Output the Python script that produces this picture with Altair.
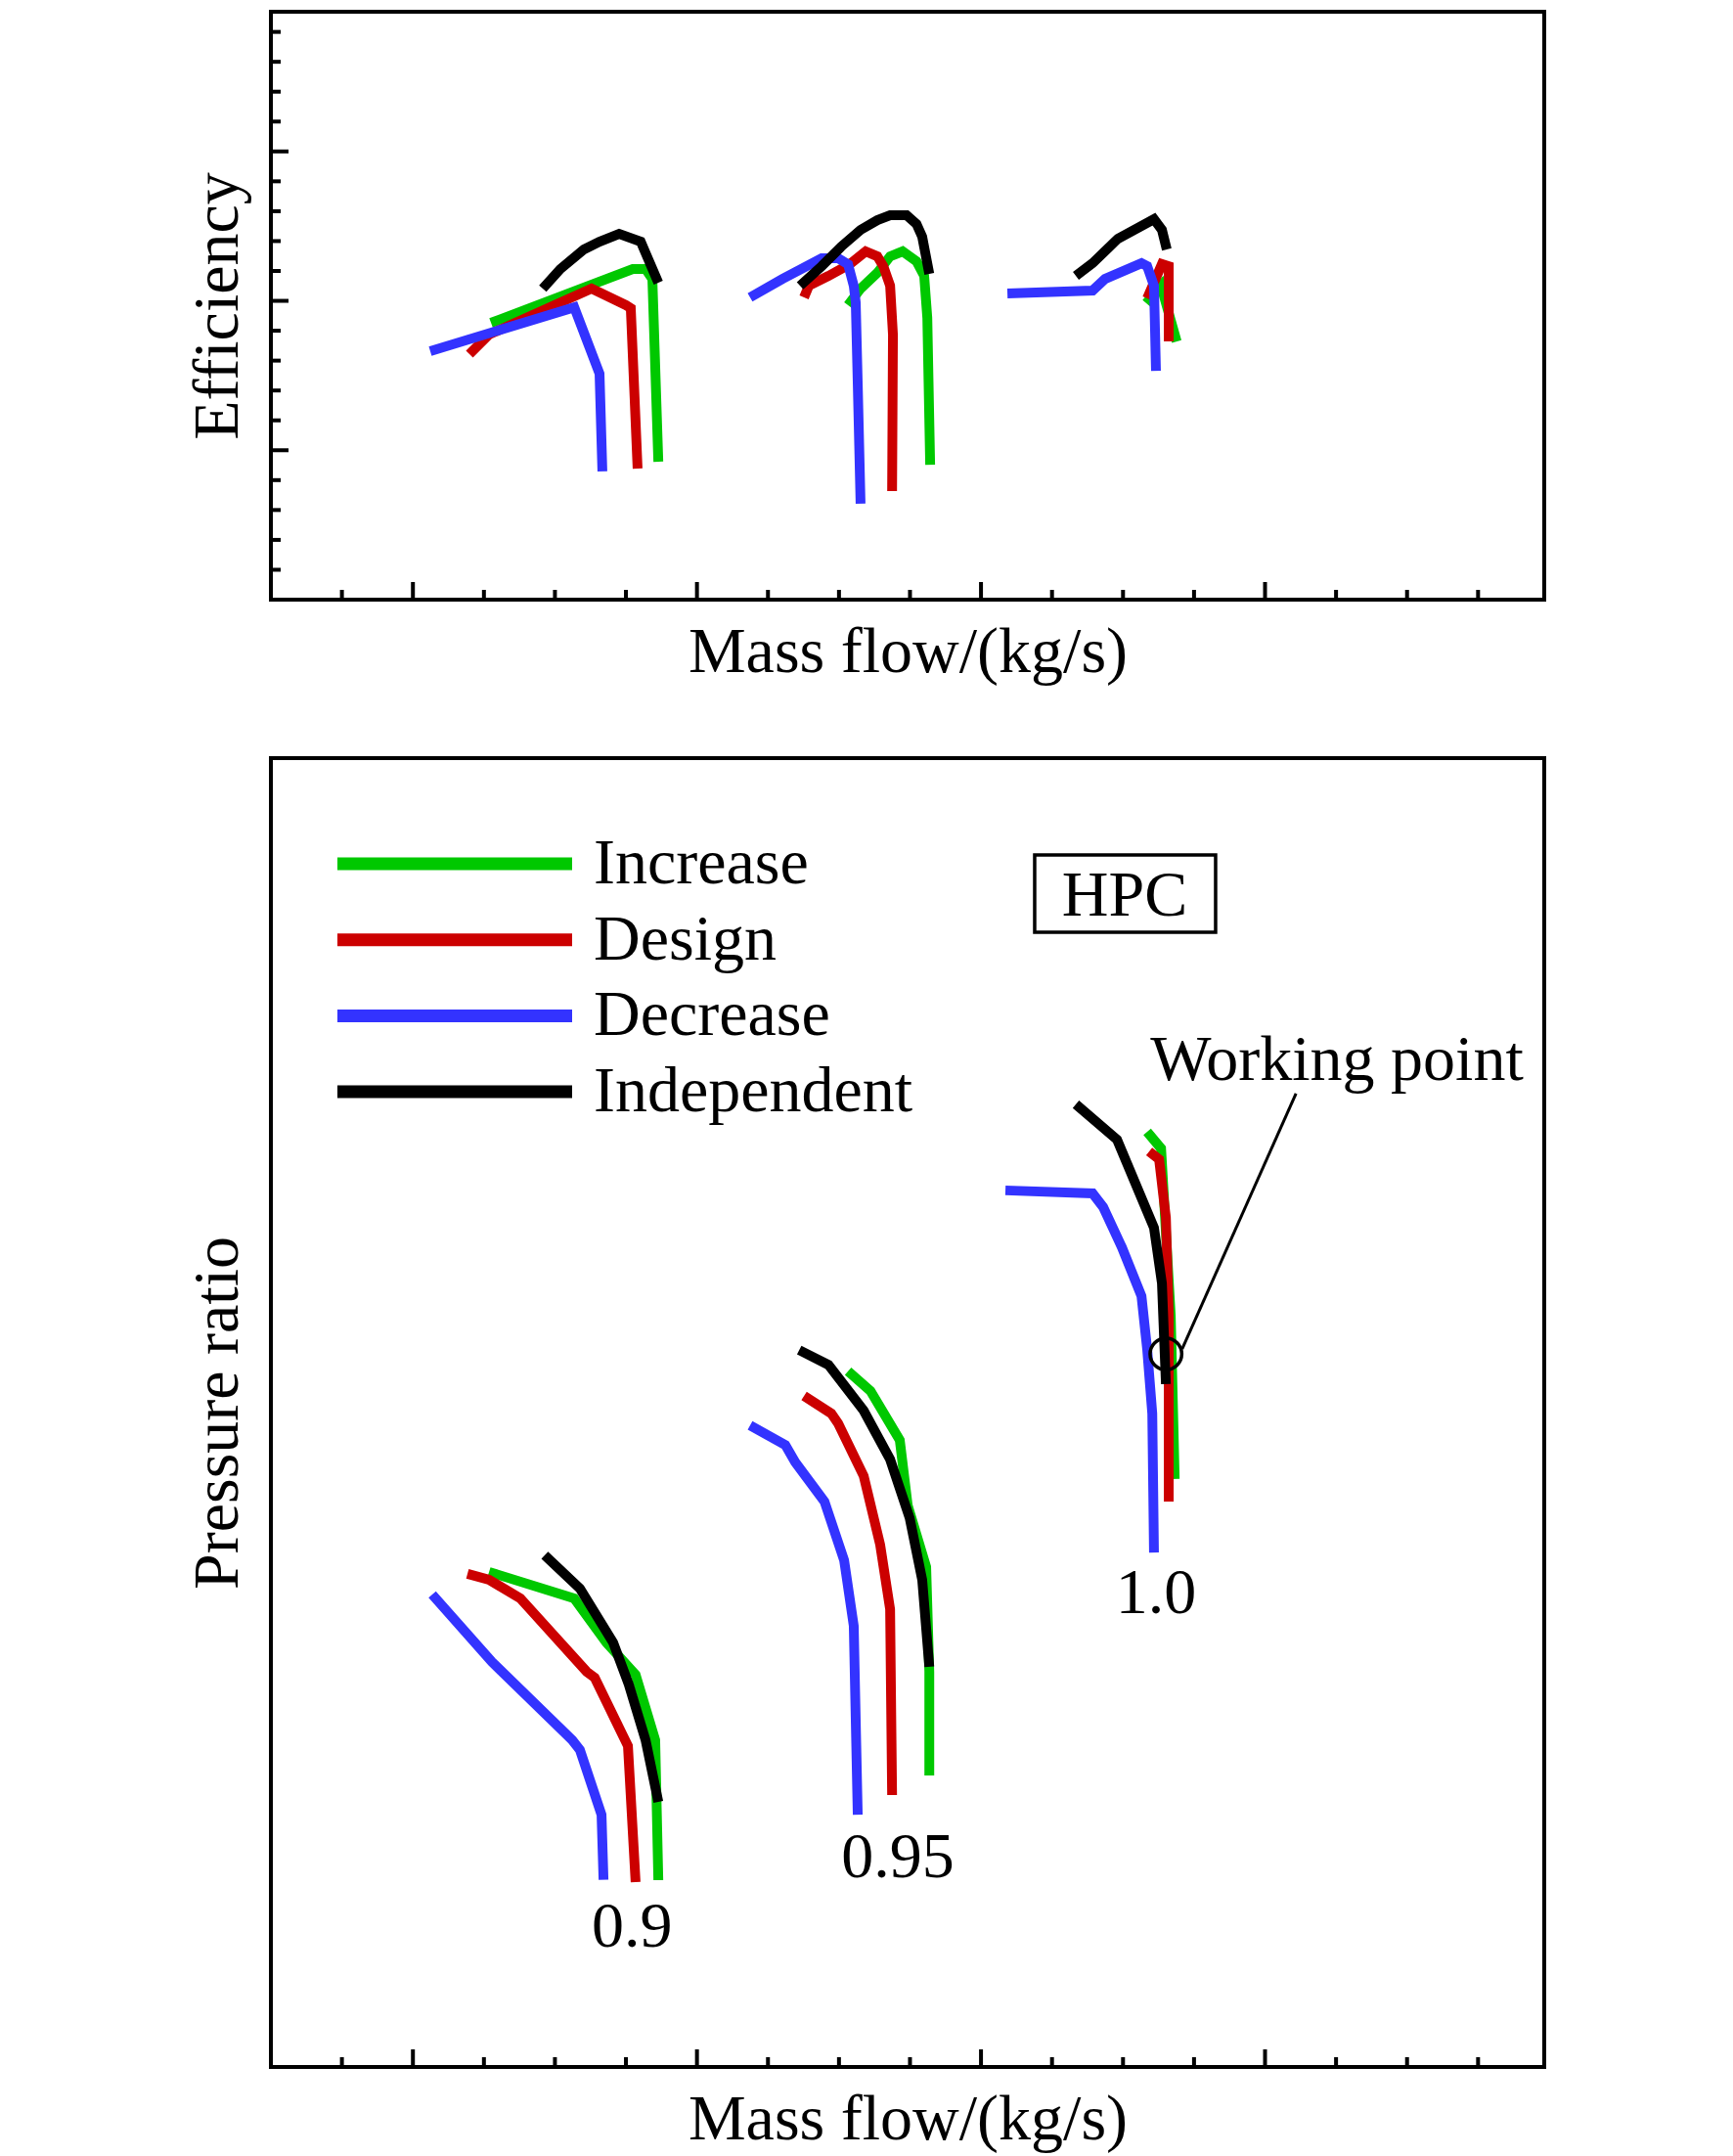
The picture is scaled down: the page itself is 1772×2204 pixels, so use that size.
import altair as alt
import pandas as pd

FONT = "Liberation Serif"
series_names = ["Increase", "Design", "Decrease", "Independent"]
series_colors = ["#00c800", "#cc0000", "#3333ff", "#000000"]

# ---------------- Efficiency (top panel) ----------------
eff_increase_090_x = [1.275, 1.774, 1.819, 1.843, 1.864]
eff_increase_090_y = [1.853, 2.213, 2.213, 2.147, 0.923]
eff_design_090_x = [1.199, 1.268, 1.629, 1.750, 1.767, 1.791]
eff_design_090_y = [1.643, 1.774, 2.082, 1.971, 1.951, 0.877]
eff_decrease_090_x = [1.061, 1.568, 1.657, 1.667]
eff_decrease_090_y = [1.663, 1.957, 1.512, 0.858]
eff_independent_090_x = [1.457, 1.519, 1.602, 1.657, 1.726, 1.802, 1.864]
eff_independent_090_y = [2.082, 2.213, 2.344, 2.396, 2.448, 2.396, 2.121]

eff_increase_095_x = [2.532, 2.576, 2.635, 2.680, 2.724, 2.773, 2.800, 2.811, 2.821]
eff_increase_095_y = [1.971, 2.082, 2.187, 2.298, 2.331, 2.265, 2.167, 1.885, 0.903]
eff_design_095_x = [2.377, 2.394, 2.463, 2.508, 2.542, 2.594, 2.635, 2.656, 2.680, 2.690, 2.687]
eff_design_095_y = [2.023, 2.101, 2.167, 2.213, 2.252, 2.331, 2.298, 2.232, 2.101, 1.774, 0.727]
eff_decrease_095_x = [2.187, 2.301, 2.439, 2.497, 2.532, 2.552, 2.559, 2.566, 2.576]
eff_decrease_095_y = [2.023, 2.147, 2.285, 2.285, 2.245, 2.101, 1.990, 1.447, 0.642]
eff_independent_095_x = [2.363, 2.439, 2.508, 2.576, 2.635, 2.680, 2.738, 2.773, 2.793, 2.818]
eff_independent_095_y = [2.101, 2.232, 2.363, 2.475, 2.540, 2.573, 2.573, 2.514, 2.429, 2.180]

eff_increase_100_x = [3.582, 3.634, 3.689]
eff_increase_100_y = [1.984, 2.101, 1.728]
eff_design_100_x = [3.585, 3.637, 3.661, 3.661]
eff_design_100_y = [2.016, 2.246, 2.232, 1.728]
eff_decrease_100_x = [3.093, 3.393, 3.437, 3.565, 3.585, 3.609, 3.616]
eff_decrease_100_y = [2.049, 2.069, 2.147, 2.252, 2.232, 2.101, 1.532]
eff_independent_100_x = [3.334, 3.393, 3.482, 3.609, 3.637, 3.654]
eff_independent_100_y = [2.167, 2.252, 2.416, 2.547, 2.475, 2.344]

# ---------------- Pressure ratio (bottom panel) ----------------
pr_increase_090_x = [1.268, 1.568, 1.681, 1.784, 1.853, 1.864]
pr_increase_090_y = [1.513, 1.432, 1.297, 1.199, 0.999, 0.571]
pr_design_090_x = [1.192, 1.268, 1.378, 1.612, 1.640, 1.757, 1.784]
pr_design_090_y = [1.507, 1.489, 1.432, 1.208, 1.190, 0.981, 0.565]
pr_decrease_090_x = [1.068, 1.278, 1.561, 1.588, 1.664, 1.671]
pr_decrease_090_y = [1.444, 1.238, 0.999, 0.969, 0.771, 0.572]
pr_independent_090_x = [1.464, 1.588, 1.705, 1.760, 1.819, 1.864]
pr_independent_090_y = [1.564, 1.462, 1.297, 1.169, 0.999, 0.810]

pr_increase_095_x = [2.532, 2.611, 2.714, 2.742, 2.807, 2.818, 2.818]
pr_increase_095_y = [2.126, 2.066, 1.916, 1.716, 1.528, 1.208, 0.891]
pr_design_095_x = [2.377, 2.473, 2.497, 2.587, 2.645, 2.680, 2.687]
pr_design_095_y = [2.051, 1.997, 1.967, 1.806, 1.596, 1.399, 0.831]
pr_decrease_095_x = [2.187, 2.311, 2.346, 2.449, 2.518, 2.552, 2.566]
pr_decrease_095_y = [1.961, 1.901, 1.848, 1.728, 1.549, 1.348, 0.771]
pr_independent_095_x = [2.360, 2.463, 2.587, 2.680, 2.749, 2.793, 2.818]
pr_independent_095_y = [2.191, 2.146, 2.006, 1.857, 1.677, 1.489, 1.223]

pr_increase_100_x = [3.585, 3.634, 3.668, 3.682]
pr_increase_100_y = [2.858, 2.807, 2.296, 1.797]
pr_design_100_x = [3.592, 3.627, 3.651, 3.661, 3.661]
pr_design_100_y = [2.798, 2.774, 2.595, 2.296, 1.728]
pr_decrease_100_x = [3.086, 3.393, 3.430, 3.496, 3.565, 3.585, 3.603, 3.609]
pr_decrease_100_y = [2.679, 2.670, 2.628, 2.505, 2.356, 2.194, 1.997, 1.572]
pr_independent_100_x = [3.334, 3.479, 3.609, 3.637, 3.651]
pr_independent_100_y = [2.942, 2.834, 2.565, 2.395, 2.087]

# ---------------- ticks (no tick labels in the original) ----------------
x_major_ticks = [1, 2, 3, 4]
x_minor_ticks = [0.75, 1.25, 1.5, 1.75, 2.25, 2.5, 2.75, 3.25, 3.5, 3.75, 4.25, 4.5, 4.75]
eff_major_ticks = [1, 2, 3]
eff_minor_ticks = [0.2, 0.4, 0.6, 0.8, 1.2, 1.4, 1.6, 1.8, 2.2, 2.4, 2.6, 2.8,
                   3.2, 3.4, 3.6, 3.8]

# ---------------- annotations ----------------
speed_label_text = ["0.9", "0.95", "1.0"]
speed_label_x = [1.771, 2.707, 3.616]
speed_label_y = [0.368, 0.580, 1.387]
working_point_x = [3.651]
working_point_y = [2.179]

X_DOMAIN = [0.5, 4.983]
EFF_DOMAIN = [0, 3.935]
PR_DOMAIN = [0, 4.0]
W, H1, H2 = 1302, 601, 1338


def build(curves):
    rows = []
    for series, speed, xs, ys in curves:
        for i, (xv, yv) in enumerate(zip(xs, ys)):
            rows.append({"series": series, "speed": speed, "i": i, "x": xv, "y": yv})
    return pd.DataFrame(rows)


eff_df = build([
    ("Increase", "0.9", eff_increase_090_x, eff_increase_090_y),
    ("Increase", "0.95", eff_increase_095_x, eff_increase_095_y),
    ("Increase", "1.0", eff_increase_100_x, eff_increase_100_y),
    ("Design", "0.9", eff_design_090_x, eff_design_090_y),
    ("Design", "0.95", eff_design_095_x, eff_design_095_y),
    ("Design", "1.0", eff_design_100_x, eff_design_100_y),
    ("Decrease", "0.9", eff_decrease_090_x, eff_decrease_090_y),
    ("Decrease", "0.95", eff_decrease_095_x, eff_decrease_095_y),
    ("Decrease", "1.0", eff_decrease_100_x, eff_decrease_100_y),
    ("Independent", "0.9", eff_independent_090_x, eff_independent_090_y),
    ("Independent", "0.95", eff_independent_095_x, eff_independent_095_y),
    ("Independent", "1.0", eff_independent_100_x, eff_independent_100_y),
])

pr_df = build([
    ("Increase", "0.9", pr_increase_090_x, pr_increase_090_y),
    ("Increase", "0.95", pr_increase_095_x, pr_increase_095_y),
    ("Increase", "1.0", pr_increase_100_x, pr_increase_100_y),
    ("Design", "0.9", pr_design_090_x, pr_design_090_y),
    ("Design", "0.95", pr_design_095_x, pr_design_095_y),
    ("Design", "1.0", pr_design_100_x, pr_design_100_y),
    ("Decrease", "0.9", pr_decrease_090_x, pr_decrease_090_y),
    ("Decrease", "0.95", pr_decrease_095_x, pr_decrease_095_y),
    ("Decrease", "1.0", pr_decrease_100_x, pr_decrease_100_y),
    ("Independent", "0.9", pr_independent_090_x, pr_independent_090_y),
    ("Independent", "0.95", pr_independent_095_x, pr_independent_095_y),
    ("Independent", "1.0", pr_independent_100_x, pr_independent_100_y),
])

xscale = alt.Scale(domain=X_DOMAIN, nice=False, zero=False)
eff_scale = alt.Scale(domain=EFF_DOMAIN, nice=False, zero=False)
pr_scale = alt.Scale(domain=PR_DOMAIN, nice=False, zero=False)
color_scale = alt.Scale(domain=series_names, range=series_colors)

x_axis = alt.Axis(title="Mass flow/(kg/s)", labels=False, ticks=False,
                  domain=False, grid=False, titlePadding=21)
eff_axis = alt.Axis(title="Efficiency", labels=False, ticks=False,
                    domain=False, grid=False, titlePadding=21)
pr_axis = alt.Axis(title="Pressure ratio", labels=False, ticks=False,
                   domain=False, grid=False, titlePadding=21)


def X(field):
    return alt.X(field, type="quantitative", scale=xscale, axis=x_axis)


def curves_layer(df, yscale, yaxis, legend):
    return alt.Chart(df).mark_line(strokeWidth=10, strokeJoin="miter").encode(
        x=X("x"),
        y=alt.Y("y:Q", scale=yscale, axis=yaxis),
        color=alt.Color("series:N", scale=color_scale, legend=legend),
        detail="speed:N",
        order="i:Q",
    )


def x_ticks(vals, length, h):
    return alt.Chart(pd.DataFrame({"t": vals})).mark_rule(
        strokeWidth=4, color="black").encode(
        x=X("t"), y=alt.value(h), y2=alt.value(h - length))


def y_ticks(vals, length, yscale, yaxis):
    return alt.Chart(pd.DataFrame({"t": vals})).mark_rule(
        strokeWidth=4, color="black").encode(
        y=alt.Y("t:Q", scale=yscale, axis=yaxis),
        x=alt.value(0), x2=alt.value(length))


top = alt.layer(
    curves_layer(eff_df, eff_scale, eff_axis, None),
    x_ticks(x_major_ticks, 18, H1),
    x_ticks(x_minor_ticks, 10, H1),
    y_ticks(eff_major_ticks, 18, eff_scale, eff_axis),
    y_ticks(eff_minor_ticks, 10, eff_scale, eff_axis),
).properties(width=W, height=H1)

legend = alt.Legend(
    title=None, orient="none", legendX=155, legendY=75,
    symbolType="M-6,0H6", symbolSize=1600, symbolStrokeWidth=13,
    labelFont=FONT, labelFontSize=66, labelColor="black",
    labelOffset=109, symbolOffset=0, rowPadding=11.7, padding=0, labelLimit=2000,
)


def PY(field):
    return alt.Y(field, type="quantitative", scale=pr_scale, axis=pr_axis)


speed_labels = alt.Chart(pd.DataFrame({
    "text": speed_label_text, "x": speed_label_x, "y": speed_label_y,
})).mark_text(font=FONT, fontSize=66, align="center", baseline="alphabetic",
              color="black").encode(x=X("x"), y=PY("y"), text="text:N")

hpc_box = alt.Chart(pd.DataFrame({"x": [3.189], "x2": [3.826], "y": [3.468], "y2": [3.704]})).mark_rect(
    fill="white", stroke="black", strokeWidth=3.5).encode(
    x=X("x"), x2="x2:Q", y=PY("y"), y2="y2:Q")

notes = alt.Chart(pd.DataFrame({
    "text": ["HPC", "Working point"], "x": [3.506, 4.253], "y": [3.519, 3.016],
})).mark_text(font=FONT, fontSize=66, align="center", baseline="alphabetic",
              color="black").encode(x=X("x"), y=PY("y"), text="text:N")

leader = alt.Chart(pd.DataFrame({"x": [3.708], "x2": [4.109], "y": [2.194], "y2": [2.975]})).mark_rule(
    color="black", strokeWidth=3).encode(
    x=X("x"), x2="x2:Q", y=PY("y"), y2="y2:Q")

wp_circle = alt.Chart(pd.DataFrame({"x": working_point_x, "y": working_point_y})).mark_point(
    shape="circle", filled=False, size=1050, strokeWidth=3.5, color="black", opacity=1).encode(
    x=X("x"), y=PY("y"))

bottom = alt.layer(
    curves_layer(pr_df, pr_scale, pr_axis, legend),
    speed_labels,
    hpc_box,
    notes,
    leader,
    wp_circle,
    x_ticks(x_major_ticks, 18, H2),
    x_ticks(x_minor_ticks, 10, H2),
).properties(width=W, height=H2)

chart = alt.vconcat(top, bottom, spacing=72).resolve_scale(
    color="independent").resolve_legend(color="independent").properties(
    padding={"left": 179, "top": 2, "right": 10, "bottom": 10},
    background="white",
).configure_view(
    stroke="black", strokeWidth=4
).configure_axis(
    titleFont=FONT, titleFontSize=66, titleFontWeight="normal", titleColor="black"
)

chart.save("out.html", embed_options={"renderer": "svg", "actions": False})
